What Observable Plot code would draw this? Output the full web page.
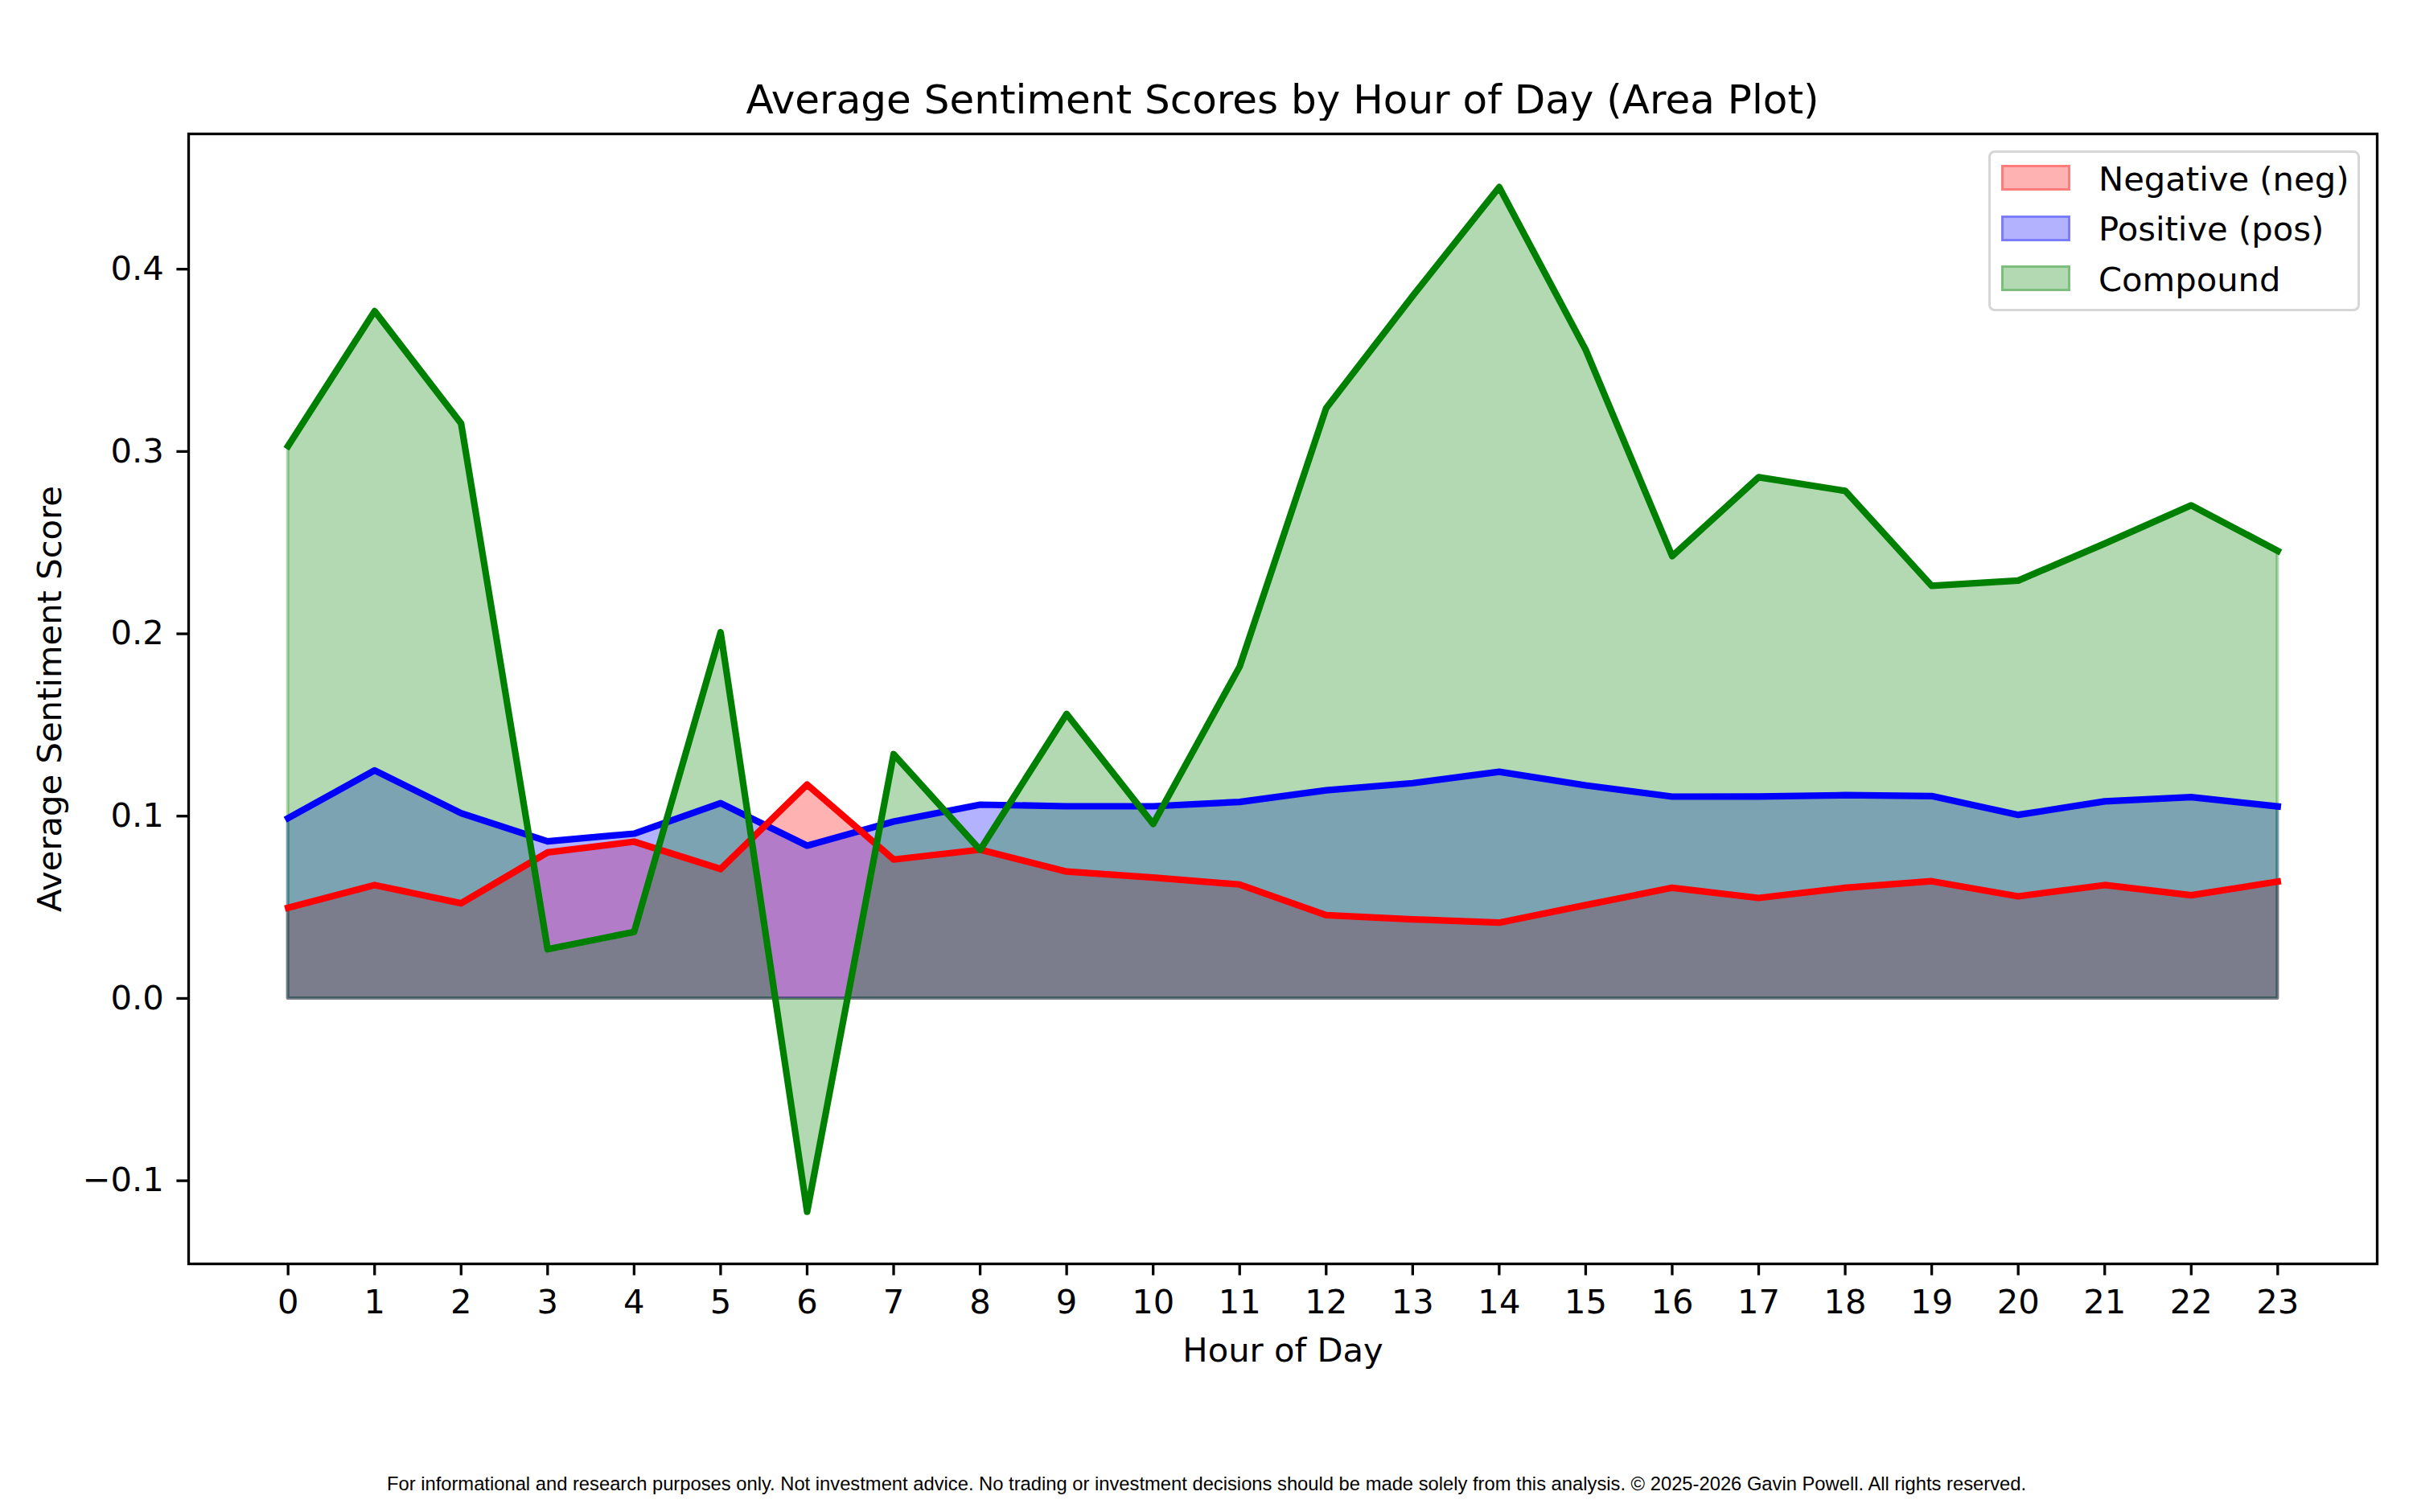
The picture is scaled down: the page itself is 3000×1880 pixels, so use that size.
<!DOCTYPE html>
<html>
<head>
<meta charset="utf-8">
<script src="https://cdn.jsdelivr.net/npm/d3@7"></script>
<script src="https://cdn.jsdelivr.net/npm/@observablehq/plot@0.6"></script>
<style>
  html, body { margin: 0; padding: 0; background: #fff; }
  #wrap { position: relative; width: 3000px; height: 1880px; background: #fff; overflow: hidden; }
  .abs { position: absolute; white-space: nowrap; }
  #title { font-family: "DejaVu Sans"; font-size: 50px; line-height: 50px; text-align: center; color: #000; }
  .legtext { font-family: "DejaVu Sans"; font-size: 41.7px; line-height: 41.7px; color: #000; }
  #footer { font-family: "Liberation Sans", Arial, sans-serif; color: #000; text-align: center; }
</style>
</head>
<body>
<div id="wrap"></div>
<script>
// ---- data ----
const hours = [0,1,2,3,4,5,6,7,8,9,10,11,12,13,14,15,16,17,18,19,20,21,22,23];
const negValues = [0.0497, 0.0622, 0.0522, 0.0801, 0.0860, 0.0710, 0.1173, 0.0762, 0.0816, 0.0696, 0.0663, 0.0625,
                   0.0457, 0.0434, 0.0416, 0.0512, 0.0607, 0.0551, 0.0607, 0.0643, 0.0560, 0.0622, 0.0566, 0.0641];
const posValues = [0.0989, 0.1251, 0.1016, 0.0862, 0.0904, 0.1071, 0.0838, 0.0970, 0.1063, 0.1054, 0.1054, 0.1078,
                   0.1142, 0.1181, 0.1243, 0.1169, 0.1107, 0.1108, 0.1115, 0.1110, 0.1007, 0.1081, 0.1104, 0.1053];
const compoundValues = [0.303, 0.377, 0.3154, 0.027, 0.0365, 0.2008, -0.117, 0.134, 0.0815, 0.156, 0.0957, 0.182,
                        0.3238, 0.3853, 0.445, 0.3558, 0.2426, 0.2859, 0.2784, 0.2263, 0.2292, 0.2495, 0.2705, 0.2455];
const yTicks = [-0.1, 0.0, 0.1, 0.2, 0.3, 0.4];
const seriesNames = ["Negative (neg)", "Positive (pos)", "Compound"];
const seriesColors = ["red", "blue", "green"];
const titleText = "Average Sentiment Scores by Hour of Day (Area Plot)";
const xLabel = "Hour of Day";
const yLabel = "Average Sentiment Score";
const footerText = "For informational and research purposes only. Not investment advice. No trading or investment decisions should be made solely from this analysis. \u00A9 2025-2026 Gavin Powell. All rights reserved.";

const table = hours.map((h, i) => ({hour: h, neg: negValues[i], pos: posValues[i], compound: compoundValues[i]}));

// ---- layout ----
const W = 3000;
const chartTop = 150;
const svgH = 1640;
const mL = 234, mR = 45, mT = 16, mB = 219;
const fontPx = 41.7;
const tickLen = 14.6;
const spineW = 3.3;
const lineW = 8.2;
const fillEdgeW = 4;

const wrap = document.getElementById("wrap");

// Title
const title = document.createElement("div");
title.id = "title";
title.className = "abs";
title.style.left = mL + "px";
title.style.width = (W - mL - mR) + "px";
title.style.top = "99px";
title.textContent = titleText;
wrap.appendChild(title);

// Chart
const areaOpts = (field, color) => ({
  x: "hour", y1: 0, y2: field,
  fill: color, fillOpacity: 0.3,
  stroke: color, strokeOpacity: 0.3, strokeWidth: fillEdgeW
});
const lineOpts = (field, color) => ({
  x: "hour", y: field, stroke: color, strokeWidth: lineW,
  strokeLinejoin: "round", strokeLinecap: "square"
});

const chart = Plot.plot({
  width: W,
  height: svgH,
  marginLeft: mL, marginRight: mR, marginTop: mT, marginBottom: mB,
  style: {fontFamily: "DejaVu Sans", fontSize: fontPx + "px", background: "white", color: "black", overflow: "visible"},
  x: {domain: [-1.15, 24.15], label: null},
  y: {domain: [-0.1456, 0.4742], label: null},
  marks: [
    Plot.areaY(table, areaOpts("neg", seriesColors[0])),
    Plot.areaY(table, areaOpts("pos", seriesColors[1])),
    Plot.areaY(table, areaOpts("compound", seriesColors[2])),
    Plot.line(table, lineOpts("pos", seriesColors[1])),
    Plot.line(table, lineOpts("neg", seriesColors[0])),
    Plot.line(table, lineOpts("compound", seriesColors[2])),
    Plot.frame({stroke: "black", strokeWidth: spineW}),
    Plot.axisX({ticks: hours, tickFormat: d => String(d), tickSize: tickLen, tickPadding: 17,
                strokeWidth: spineW, fontSize: fontPx, label: null}),
    Plot.axisY({ticks: yTicks, tickFormat: d3.format(".1f"), tickSize: tickLen, tickPadding: 16,
                strokeWidth: spineW, fontSize: fontPx, label: null}),
    Plot.text([xLabel], {frameAnchor: "bottom", dy: 108, lineAnchor: "middle", textAnchor: "middle",
                         fontSize: fontPx, fill: "black"}),
    Plot.text([yLabel], {frameAnchor: "left", dx: -172, rotate: -90, lineAnchor: "middle", textAnchor: "middle",
                         fontSize: fontPx, fill: "black"})
  ]
});
const chartDiv = document.createElement("div");
chartDiv.className = "abs";
chartDiv.style.left = "0px";
chartDiv.style.top = chartTop + "px";
chartDiv.appendChild(chart);
wrap.appendChild(chartDiv);

// Legend (upper right, inside axes)
const leg = document.createElement("div");
leg.className = "abs";
Object.assign(leg.style, {
  left: "2472px", top: "187px", width: "456px", height: "194px",
  border: "3px solid #d6d6d6", borderRadius: "8px", background: "rgba(255,255,255,0.8)"
});
wrap.appendChild(leg);
seriesNames.forEach((name, i) => {
  const sw = document.createElement("div");
  sw.className = "abs";
  const c = d3.color(seriesColors[i]);
  c.opacity = 0.3;
  Object.assign(sw.style, {
    left: "2488px", top: (205 + i * 62.5) + "px", width: "80px", height: "26px",
    background: c.toString(), border: "3px solid " + c.toString()
  });
  wrap.appendChild(sw);
  const t = document.createElement("div");
  t.className = "abs legtext";
  t.style.left = "2609px";
  t.style.top = (201.7 + i * 62.5) + "px";
  t.textContent = name;
  wrap.appendChild(t);
});

// Footer, fitted to the reference width
const footer = document.createElement("div");
footer.id = "footer";
footer.className = "abs";
const ctx = document.createElement("canvas").getContext("2d");
ctx.font = "100px 'Liberation Sans'";
const fw = ctx.measureText(footerText).width;
const fSize = 100 * 2040 / fw;
footer.style.fontSize = fSize + "px";
footer.style.lineHeight = fSize + "px";
footer.style.left = "0px";
footer.style.width = W + "px";
footer.style.top = (1852.7 - 0.8465 * fSize) + "px";
footer.textContent = footerText;
wrap.appendChild(footer);
</script>
</body>
</html>
